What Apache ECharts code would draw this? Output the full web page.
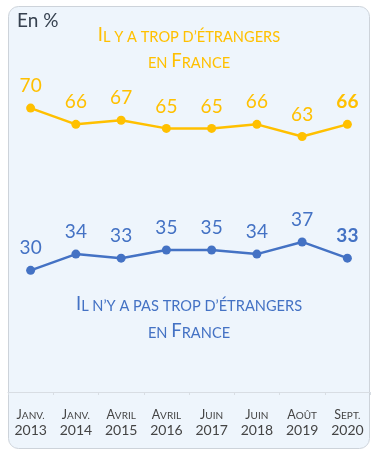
<!DOCTYPE html>
<html><head><meta charset="utf-8">
<script src="https://cdn.jsdelivr.net/npm/echarts@6/dist/echarts.min.js"></script>
<style>html,body{margin:0;padding:0;background:#fff}#c{width:378px;height:461px}</style>
</head><body><div id="c"></div>
<script>
var categories = ['Janv. 2013','Janv. 2014','Avril 2015','Avril 2016','Juin 2017','Juin 2018','Août 2019','Sept. 2020'];
var tropValues = [70, 66, 67, 65, 65, 66, 63, 66];
var pasTropValues = [30, 34, 33, 35, 35, 34, 37, 33];
var tropLabel = ['Il y a trop d’étrangers', 'en France'];
var pasTropLabel = ['Il n’y a pas trop d’étrangers', 'en France'];

var ORANGE = '#FFC000', BLUE = '#4472C4', FONT = 'Lato';

function smallCaps(s, big, small) {
  var out = '', cur = null, buf = '';
  for (var i = 0; i < s.length; i++) {
    var ch = s[i];
    var isUp = ch !== ch.toLowerCase();
    var st = isUp ? big : small;
    if (st !== cur) { if (buf) out += '{' + cur + '|' + buf + '}'; buf = ''; cur = st; }
    buf += ch.toUpperCase();
  }
  if (buf) out += '{' + cur + '|' + buf + '}';
  return out;
}

var chart = echarts.init(document.getElementById('c'));
function titleRich(color, big, small) {
  return {
    B: {fontSize: big, fill: color, fontFamily: FONT, verticalAlign: 'bottom'},
    S: {fontSize: small, fill: color, fontFamily: FONT, verticalAlign: 'bottom'}
  };
}
function titleLine(txt, color, top) {
  return {type: 'text', z: 1, left: 'center', top: top,
    style: {text: smallCaps(txt, 'B', 'S'), rich: titleRich(color, 18.5, 14.6), fill: color}};
}
function mkData(vals) {
  return vals.map(function (v, i) {
    return i === vals.length - 1 ? {value: v, label: {fontWeight: 'bold'}} : v;
  });
}
chart.setOption({
  animation: false,
  graphic: [
    {type: 'rect', z: 0, shape: {x: 8.5, y: 6.5, width: 361, height: 442, r: 10},
     style: {fill: '#EEF5FC', stroke: '#cdd3da', lineWidth: 1}},
    {type: 'text', z: 1, left: 17, top: 11,
     style: {text: 'En %', fontSize: 19, fontFamily: FONT, fill: '#36414f'}},
    titleLine(tropLabel[0], ORANGE, 26),
    titleLine(tropLabel[1], ORANGE, 52),
    titleLine(pasTropLabel[0], BLUE, 295),
    titleLine(pasTropLabel[1], BLUE, 322)
  ],
  grid: {left: 8, right: 8, top: 27, bottom: 69},
  xAxis: {
    type: 'category', data: categories, boundaryGap: true,
    axisLine: {lineStyle: {color: '#d8dde3', width: 1}},
    axisTick: {show: true, length: 3, lineStyle: {color: '#d8dde3'}},
    axisLabel: {
      interval: 0, margin: 10, lineHeight: 19,
      formatter: function (v) {
        var p = v.split(' ');
        return smallCaps(p[0], 'B', 'S') + '\n{N|' + p[1] + '}';
      },
      rich: {
        B: {fontSize: 12.5, color: '#444', fontFamily: FONT, verticalAlign: 'bottom'},
        S: {fontSize: 10, color: '#444', fontFamily: FONT, verticalAlign: 'bottom'},
        N: {fontSize: 14, color: '#444', fontFamily: FONT}
      }
    }
  },
  yAxis: {type: 'value', min: 0, max: 90, show: false, splitLine: {show: false}},
  series: [
    {type: 'line', data: mkData(tropValues), color: ORANGE, symbol: 'circle', symbolSize: 9,
     lineStyle: {width: 2.5, color: ORANGE}, itemStyle: {color: ORANGE},
     label: {show: true, position: 'top', distance: 8, color: ORANGE, fontSize: 19, fontFamily: FONT}},
    {type: 'line', data: mkData(pasTropValues), color: BLUE, symbol: 'circle', symbolSize: 9,
     lineStyle: {width: 2.5, color: BLUE}, itemStyle: {color: BLUE},
     label: {show: true, position: 'top', distance: 8, color: BLUE, fontSize: 19, fontFamily: FONT}}
  ]
});
</script></body></html>
